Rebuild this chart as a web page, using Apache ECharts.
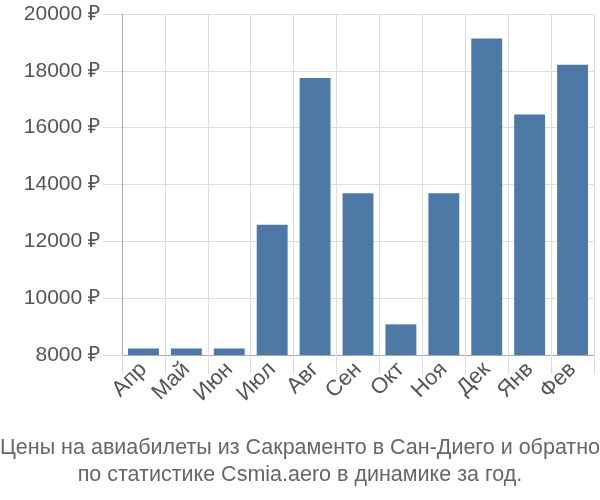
<!DOCTYPE html>
<html><head><meta charset="utf-8">
<script src="https://cdn.jsdelivr.net/npm/echarts@6/dist/echarts.min.js"></script>
<style>html,body{margin:0;padding:0;background:#fff}#c{width:600px;height:500px}</style>
</head><body><div id="c"></div>
<script>
var categories = ['Апр','Май','Июн','Июл','Авг','Сен','Окт','Ноя','Дек','Янв','Фев'];
var prices = [8230, 8230, 8230, 12580, 17750, 13690, 9080, 13690, 19140, 16460, 18210];
var yTicks = [8000, 10000, 12000, 14000, 16000, 18000, 20000];
var titleLines = ['Цены на авиабилеты из Сакраменто в Сан-Диего и обратно', 'по статистике Csmia.aero в динамике за год.'];

var chart = echarts.init(document.getElementById('c'));
chart.setOption({
  animation: false,
  title: {
    text: titleLines.join('\n'),
    left: 'center', bottom: 6,
    textStyle: {fontFamily: 'Liberation Sans, Arial', fontSize: 21.5, fontWeight: 'normal', color: '#666', lineHeight: 27}
  },
  grid: {left: 122, right: 6, top: 14, bottom: 145},
  xAxis: {
    type: 'category', data: categories,
    axisLine: {lineStyle: {color: '#aaa', width: 1}},
    axisTick: {show: true, length: 19, lineStyle: {color: '#ddd'}},
    splitLine: {show: true, lineStyle: {color: '#ddd', width: 1}},
    axisLabel: {rotate: 45, fontFamily: 'Liberation Sans, Arial', fontSize: 22, color: '#555', margin: 11}
  },
  yAxis: {
    type: 'value', min: yTicks[0], max: yTicks[yTicks.length-1], interval: 2000,
    axisLine: {show: true, lineStyle: {color: '#aaa', width: 1}},
    axisTick: {show: true, length: 19, lineStyle: {color: '#ddd'}},
    splitLine: {lineStyle: {color: '#ddd', width: 1}},
    axisLabel: {fontFamily: 'Liberation Sans, Arial', fontSize: 21, color: '#555', margin: 22,
      formatter: function(v){ return v + ' ₽'; }}
  },
  series: [{
    type: 'bar', data: prices, barCategoryGap: '28%',
    itemStyle: {color: '#4e79a7'}
  }]
});
</script></body></html>
